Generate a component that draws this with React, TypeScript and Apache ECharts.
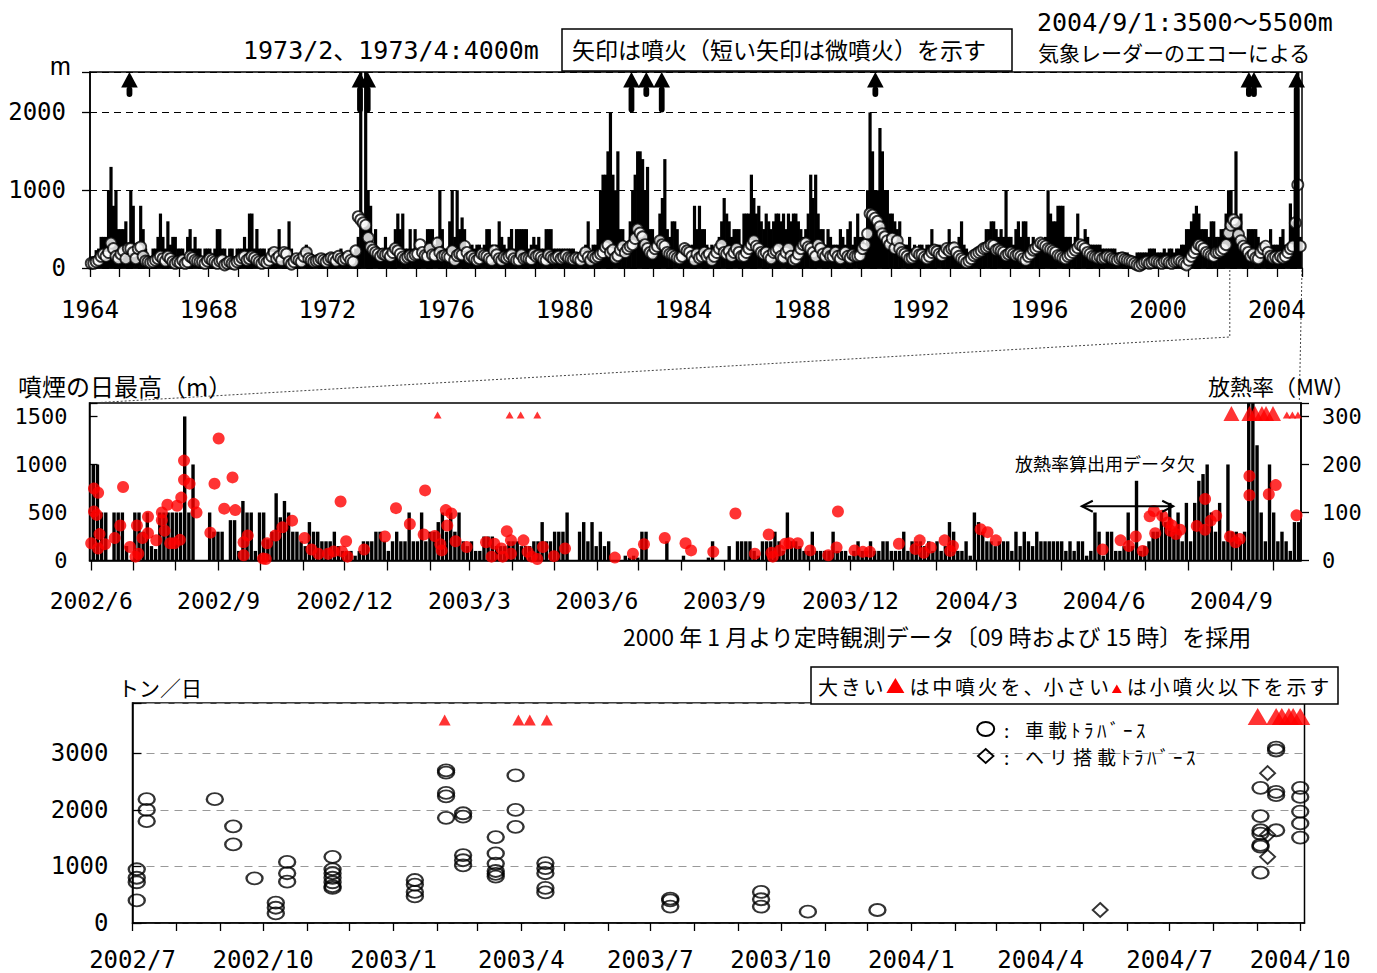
import { useEffect, useRef } from 'react';
import * as echarts from 'echarts';

// ---------- fonts ----------
const MONO = '"DejaVu Sans Mono", monospace';
const JP = '"Noto Sans CJK JP", sans-serif';
const MIXED = '"DejaVu Sans Mono", "Noto Sans CJK JP", monospace';

// ---------- panel 1: monthly plume height 1964–2004 (m) ----------
const TOP_START_YEAR = 1964;
const TOP_X_MAX = 2004.85;
const TOP_Y_MAX = 2520;
// monthly maximum plume height, one row per year
const plumeMonthlyMax: number[][] = [
  [150, 150, 230, 250, 400, 400, 400, 1000, 1300, 800, 1000, 500],
  [500, 500, 600, 200, 1000, 800, 300, 200, 800, 500, 250, 150],
  [150, 250, 250, 400, 700, 400, 250, 600, 300, 400, 400, 250],
  [250, 250, 150, 400, 500, 250, 400, 250, 250, 150, 250, 250],
  [250, 150, 250, 500, 500, 250, 250, 150, 250, 250, 150, 250],
  [250, 250, 400, 250, 700, 700, 250, 500, 250, 250, 250, 150],
  [250, 250, 250, 250, 500, 250, 250, 250, 600, 250, 150, 150],
  [150, 150, 250, 300, 250, 150, 150, 150, 150, 100, 150, 150],
  [150, 100, 150, 150, 150, 250, 150, 150, 150, 150, 150, 250],
  [400, 4000, 500, 4000, 1000, 800, 300, 500, 250, 250, 250, 400],
  [250, 250, 300, 500, 700, 500, 700, 250, 250, 500, 250, 500],
  [250, 250, 250, 250, 500, 500, 500, 300, 400, 1000, 500, 250],
  [250, 600, 1000, 400, 1000, 500, 650, 500, 250, 250, 300, 250],
  [300, 300, 250, 300, 500, 500, 300, 250, 300, 600, 400, 300],
  [250, 400, 500, 250, 500, 500, 500, 500, 500, 250, 300, 400],
  [300, 400, 250, 250, 500, 500, 500, 250, 250, 250, 250, 250],
  [250, 250, 250, 250, 200, 200, 200, 200, 300, 600, 200, 300],
  [300, 500, 1000, 1200, 1200, 1500, 2000, 1200, 1000, 1500, 500, 500],
  [250, 300, 600, 1000, 1200, 1500, 1500, 1400, 1000, 1300, 500, 500],
  [300, 400, 700, 900, 1400, 500, 400, 600, 600, 500, 250, 250],
  [300, 250, 250, 300, 800, 500, 800, 500, 500, 300, 250, 300],
  [250, 300, 400, 600, 900, 700, 600, 400, 500, 500, 500, 300],
  [700, 700, 700, 1200, 900, 700, 800, 600, 500, 700, 600, 500],
  [600, 700, 700, 600, 700, 500, 700, 600, 700, 700, 600, 500],
  [400, 500, 700, 1200, 900, 1200, 700, 500, 500, 300, 500, 400],
  [300, 300, 300, 500, 400, 300, 500, 600, 300, 400, 700, 400],
  [400, 300, 1000, 2000, 1500, 1000, 1000, 1800, 1500, 1000, 1000, 700],
  [700, 600, 500, 600, 300, 300, 300, 400, 250, 300, 250, 300],
  [300, 250, 300, 300, 500, 300, 300, 300, 250, 300, 300, 500],
  [300, 300, 300, 400, 600, 300, 250, 200, 200, 200, 250, 250],
  [250, 300, 500, 500, 600, 600, 500, 400, 500, 400, 1000, 400],
  [400, 300, 500, 600, 400, 600, 600, 400, 300, 400, 300, 250],
  [300, 300, 400, 1000, 700, 600, 600, 800, 800, 800, 400, 400],
  [400, 300, 400, 700, 300, 300, 500, 400, 300, 300, 300, 300],
  [300, 250, 250, 250, 250, 250, 250, 200, 200, 200, 200, 200],
  [150, 150, 150, 200, 200, 200, 200, 200, 250, 250, 250, 200],
  [200, 200, 250, 200, 250, 250, 200, 250, 250, 300, 300, 500],
  [500, 600, 700, 800, 700, 500, 500, 500, 400, 600, 600, 400],
  [400, 500, 500, 700, 1000, 1000, 500, 1500, 620, 700, 400, 300],
  [500, 500, 500, 500, 400, 300, 300, 300, 300, 500, 300, 300],
  [300, 400, 500, 300, 300, 830, 600, 1000, 5500, 400],
];
// monthly mean plume height, one row per year
const plumeMonthlyMean: number[][] = [
  [60, 60, 80, 100, 150, 180, 150, 200, 320, 250, 150, 120],
  [180, 220, 120, 250, 250, 200, 120, 250, 270, 150, 90, 80],
  [70, 80, 100, 120, 150, 120, 90, 150, 120, 80, 60, 80],
  [70, 100, 60, 80, 150, 130, 100, 90, 80, 80, 60, 90],
  [120, 100, 80, 60, 90, 100, 40, 60, 80, 60, 50, 80],
  [100, 130, 150, 100, 120, 150, 130, 100, 80, 60, 90, 70],
  [100, 150, 200, 120, 150, 100, 200, 180, 80, 50, 80, 120],
  [100, 80, 150, 200, 120, 100, 80, 90, 100, 120, 100, 80],
  [110, 130, 120, 90, 150, 120, 100, 120, 150, 100, 80, 220],
  [660, 620, 580, 550, 390, 270, 230, 200, 180, 150, 180, 170],
  [180, 150, 200, 250, 220, 180, 140, 120, 140, 160, 150, 170],
  [180, 300, 200, 160, 150, 250, 170, 160, 320, 200, 150, 160],
  [150, 140, 220, 100, 160, 180, 170, 280, 200, 130, 150, 120],
  [100, 120, 180, 160, 150, 120, 100, 220, 170, 120, 100, 140],
  [130, 150, 170, 120, 100, 100, 170, 120, 130, 120, 110, 180],
  [150, 160, 140, 110, 100, 170, 140, 120, 130, 150, 120, 140],
  [160, 130, 120, 110, 130, 120, 100, 150, 200, 140, 100, 150],
  [130, 150, 180, 200, 270, 300, 200, 230, 130, 160, 230, 280],
  [200, 250, 280, 300, 380, 500, 450, 400, 300, 250, 200, 180],
  [250, 280, 350, 300, 280, 200, 180, 170, 150, 130, 120, 150],
  [250, 220, 200, 150, 100, 180, 130, 150, 200, 150, 180, 100],
  [150, 200, 250, 300, 200, 180, 220, 150, 200, 250, 200, 150],
  [150, 200, 250, 300, 350, 280, 250, 200, 180, 200, 150, 120],
  [200, 220, 250, 150, 130, 200, 250, 150, 100, 120, 180, 250],
  [300, 320, 270, 250, 200, 150, 300, 250, 180, 150, 200, 150],
  [150, 200, 150, 120, 180, 200, 150, 130, 170, 150, 150, 160],
  [250, 300, 440, 700, 680, 640, 600, 530, 440, 400, 350, 300],
  [380, 250, 350, 250, 200, 180, 150, 120, 130, 160, 200, 170],
  [170, 140, 120, 150, 200, 230, 210, 180, 160, 200, 250, 220],
  [250, 260, 200, 150, 120, 100, 70, 90, 120, 160, 180, 200],
  [220, 250, 260, 280, 300, 290, 230, 240, 220, 200, 160, 180],
  [200, 180, 160, 170, 150, 120, 100, 150, 180, 230, 250, 280],
  [320, 300, 280, 250, 240, 220, 200, 160, 150, 130, 120, 150],
  [170, 200, 230, 260, 300, 280, 250, 200, 180, 150, 140, 130],
  [140, 120, 130, 150, 140, 120, 110, 100, 120, 130, 110, 100],
  [90, 80, 60, 40, 30, 50, 70, 80, 60, 70, 90, 80],
  [70, 60, 80, 90, 70, 60, 80, 90, 100, 80, 60, 40],
  [100, 150, 200, 250, 300, 280, 250, 200, 180, 160, 150, 200],
  [200, 220, 250, 300, 450, 550, 620, 580, 430, 350, 280, 250],
  [200, 150, 180, 130, 120, 200, 250, 280, 200, 150, 130, 140],
  [120, 150, 130, 150, 200, 250, 280, 580, 1070, 280],
];
// eruptions (decimal year)
const eruptionsLong = [1973.1, 1973.36, 1982.25, 1983.27];
const eruptionsShort = [1965.33, 1982.75, 1990.47, 2003.06, 2003.23];
const radarEcho = [2004.67];
const LONG_TAIL = 2000;
const SHORT_TAIL = 2200;

// ---------- panel 2: daily plume height (3-day bins) and heat discharge ----------
const DAILY_START = '2002/6/1';
const DAILY_END = '2004/10/20';
const DAILY_BIN = 3;
const plumeDaily: number[] = [
  1000, 1000, 500, 500, 0, 500, 500, 500, 150, 0,
  500, 500, 300, 500, 150, 120, 500, 500, 500, 500,
  500, 500, 1500, 500, 1000, 0, 0, 0, 500, 300,
  300, 300, 0, 420, 420, 100, 620, 500, 500, 100,
  500, 500, 220, 300, 700, 450, 620, 500, 300, 300,
  200, 150, 400, 300, 300, 200, 200, 200, 300, 150,
  100, 100, 100, 50, 100, 200, 200, 200, 300, 300,
  200, 100, 200, 300, 200, 200, 500, 200, 200, 500,
  200, 300, 300, 400, 500, 300, 500, 300, 500, 200,
  150, 200, 100, 100, 250, 250, 250, 150, 150, 150,
  200, 200, 200, 150, 150, 150, 200, 200, 400, 200,
  200, 300, 300, 300, 500, 0, 0, 300, 400, 200,
  400, 150, 300, 150, 200, 0, 0, 0, 50, 30,
  50, 30, 300, 300, 0, 0, 0, 0, 200, 0,
  0, 0, 50, 0, 0, 0, 0, 0, 30, 200,
  0, 0, 0, 150, 0, 200, 200, 200, 200, 100,
  50, 200, 200, 200, 300, 200, 100, 500, 200, 200,
  150, 100, 100, 300, 100, 100, 100, 100, 300, 100,
  100, 100, 50, 100, 200, 100, 100, 200, 100, 100,
  200, 200, 100, 100, 100, 300, 100, 200, 200, 200,
  150, 200, 100, 200, 100, 150, 400, 300, 100, 100,
  200, 50, 500, 400, 300, 200, 200, 150, 200, 200,
  200, 100, 300, 150, 300, 200, 150, 300, 200, 200,
  200, 200, 200, 200, 100, 200, 100, 200, 200, 50,
  100, 500, 300, 50, 300, 300, 100, 100, 150, 500,
  150, 830, 100, 150, 200, 300, 300, 500, 400, 600,
  300, 500, 200, 600, 200, 600, 830, 900, 1000, 500,
  300, 600, 200, 1000, 300, 300, 200, 300, 1700, 1650,
  1200, 500, 200, 1000, 500, 200, 300, 200, 100, 400, 400,
];
// heat discharge rate (MW): day offset from DAILY_START, value
const heatDay = [
  0, 2, 2, 4, 5, 5, 6, 10, 17, 21, 23, 28, 32, 33, 34, 37, 41, 41, 47, 51,
  51, 53, 55, 57, 60, 62, 64, 65, 67, 67, 71, 74, 76, 86, 89, 92, 96, 102, 104, 110,
  110, 113, 124, 126, 127, 133, 138, 145, 154, 159, 164, 171, 175, 180, 181, 184, 185, 197, 212, 220,
  230, 240, 241, 248, 252, 253, 256, 257, 260, 263,
  271, 285, 289, 291, 296, 297, 300, 303, 303, 312, 315, 318, 322, 326, 334, 342, 378, 391, 399, 414,
  429, 433, 449, 465, 479, 489, 491, 492, 497, 501, 504, 510, 519, 532, 538, 539, 551, 557, 562, 583,
  595, 598, 601, 606, 616, 620, 622, 642, 647, 653, 730, 743, 749, 754, 759, 764, 767, 768, 773, 777,
  779, 780, 783, 786, 798, 804, 804, 808, 812, 822, 826, 829, 836, 836, 850, 855, 870,
];
const heatMW = [
  36, 102, 150, 95, 141, 25, 55, 34, 47, 73, 153, 28, 8, 73, 14, 47, 91, 57, 42, 84,
  100, 62, 116, 36, 36, 114, 43, 131, 208, 168, 160, 118, 100, 58, 160, 254, 108, 173, 105, 38,
  11, 52, 4, 3, 36, 52, 69, 83, 47, 23, 14, 14, 19, 123, 19, 40, 8, 23, 50, 109,
  76, 54, 146, 51, 34, 21, 105, 73, 98, 40,
  28, 38, 8, 35, 25, 8, 61, 42, 14, 42, 18, 8, 3, 28, 9, 25, 6, 14, 34, 47,
  36, 21, 18, 98, 14, 54, 16, 8, 21, 35, 36, 36, 21, 11, 27, 102, 21, 18, 18, 35,
  24, 42, 16, 27, 42, 20, 30, 65, 59, 42, 23, 42, 30, 50, 20, 92, 103, 57, 93, 79,
  62, 73, 55, 64, 72, 128, 64, 83, 93, 50, 38, 45, 176, 136, 138, 157, 94,
];
const minorEruptions = ['2003/2/6', '2003/3/30', '2003/4/7', '2003/4/19', '2004/10/11', '2004/10/15', '2004/10/19'];
const mediumEruptions = ['2004/9/1', '2004/9/14', '2004/9/18', '2004/9/23', '2004/9/26', '2004/10/1'];
const heatGap = { from: '2004/5/16', to: '2004/7/21', level: 113 };
const MID_Y_MAX = 1640;
const MID_Y2_MAX = 328;
const EVENT_MW_SMALL = 303;
const EVENT_MW_LARGE = 306;

// ---------- panel 3: SO2 emission (t/day) ----------
const SO2_START = '2002/7/1';
const SO2_END = '2004/10/4';
const SO2_Y_MAX = 3890;
const so2Car: [string, number][] = [
  ['2002/7/4', 950], ['2002/7/4', 800], ['2002/7/4', 720], ['2002/7/4', 400],
  ['2002/7/11', 2190], ['2002/7/11', 2000], ['2002/7/11', 1800],
  ['2002/8/28', 2190],
  ['2002/9/10', 1710], ['2002/9/10', 1390],
  ['2002/9/25', 790],
  ['2002/10/10', 360], ['2002/10/10', 270], ['2002/10/10', 170],
  ['2002/10/18', 1080], ['2002/10/18', 880], ['2002/10/18', 730],
  ['2002/11/19', 1170], ['2002/11/19', 950], ['2002/11/19', 880], ['2002/11/19', 800],
  ['2002/11/19', 720], ['2002/11/19', 650], ['2002/11/19', 620],
  ['2003/1/16', 760], ['2003/1/16', 680], ['2003/1/16', 550], ['2003/1/16', 470],
  ['2003/2/7', 2700], ['2003/2/7', 2660], ['2003/2/7', 2300], ['2003/2/7', 2240], ['2003/2/7', 1860],
  ['2003/2/19', 1940], ['2003/2/19', 1880], ['2003/2/19', 1200], ['2003/2/19', 1110], ['2003/2/19', 1020],
  ['2003/3/14', 1520], ['2003/3/14', 1230], ['2003/3/14', 1050], ['2003/3/14', 920],
  ['2003/3/14', 870], ['2003/3/14', 820],
  ['2003/3/28', 2610], ['2003/3/28', 2000], ['2003/3/28', 1700],
  ['2003/4/18', 1060], ['2003/4/18', 970], ['2003/4/18', 880], ['2003/4/18', 620], ['2003/4/18', 540],
  ['2003/7/15', 430], ['2003/7/15', 400], ['2003/7/15', 290],
  ['2003/9/17', 550], ['2003/9/17', 420], ['2003/9/17', 290],
  ['2003/10/20', 200],
  ['2003/12/8', 230],
  ['2004/9/3', 2390], ['2004/9/3', 1890], ['2004/9/3', 1640], ['2004/9/3', 1580],
  ['2004/9/3', 1380], ['2004/9/3', 1350], ['2004/9/3', 890],
  ['2004/9/14', 3100], ['2004/9/14', 3050], ['2004/9/14', 2320], ['2004/9/14', 2260], ['2004/9/14', 1640],
  ['2004/10/1', 2390], ['2004/10/1', 2230], ['2004/10/1', 1970], ['2004/10/1', 1760], ['2004/10/1', 1510],
];
const so2Heli: [string, number][] = [
  ['2004/5/13', 230], ['2004/9/8', 2650], ['2004/9/8', 1560], ['2004/9/8', 1170],
];
const SO2_EVENT_SMALL = 3590;
const SO2_EVENT_LARGE = 3650;

// ---------- helpers ----------
const DAY = 86400000;
const ts = (s: string) => {
  const [y, m, d] = s.split('/').map(Number);
  return new Date(y, m - 1, d).getTime();
};
const monthLabel = (months: number[]) => (v: number) => {
  const d = new Date(v);
  if (d.getDate() !== 1 || d.getHours() !== 0) return '';
  const m = d.getMonth() + 1;
  return months.includes(m) ? `${d.getFullYear()}/${m}` : '';
};
const isHalf = (ch: string) => {
  const c = ch.charCodeAt(0);
  return c < 0x2000 || (c >= 0xff61 && c <= 0xff9f);
};
function spaced(out: any[], str: string, x0: number, y: number, full: number, half: number, size: number) {
  let x = x0;
  for (const ch of str) {
    out.push({
      type: 'text', x, y, silent: true,
      style: { text: ch, fontSize: size, fontFamily: JP, fill: '#000', align: 'left', verticalAlign: 'middle' },
    });
    x += isHalf(ch) ? half : full;
  }
  return x;
}
const label = (text: string, x: number, y: number, size: number, family = JP) => ({
  type: 'text', x, y, silent: true,
  style: { text, fontSize: size, fontFamily: family, fill: '#000', align: 'left', verticalAlign: 'middle' },
});

const axisBlack = { lineStyle: { color: '#000', width: 1.5 } };
const tickBlack = (length: number, inside = false) => ({ show: true, inside, length, lineStyle: { color: '#000', width: 1.3 } });

function buildOption() {
  const topBars = plumeMonthlyMax.flatMap((row, yi) => row.map((v, m) => [TOP_START_YEAR + yi + (m + 0.5) / 12, v]));
  const topMeans = plumeMonthlyMean.flatMap((row, yi) => row.map((v, m) => [TOP_START_YEAR + yi + (m + 0.5) / 12, v]));
  const arrows = [
    ...eruptionsLong.map((x) => [x, LONG_TAIL]),
    ...eruptionsShort.map((x) => [x, SHORT_TAIL]),
    ...radarEcho.map((x) => [x, 0]),
  ];
  const start = ts(DAILY_START);
  const midBars = plumeDaily.map((v, i) => [start + (i * DAILY_BIN + DAILY_BIN / 2) * DAY, v]);
  const heat = heatDay.map((d, i) => [start + d * DAY, heatMW[i]]);

  const gridBase = { show: true, borderColor: '#000', borderWidth: 1.5, backgroundColor: 'transparent', containLabel: false, outerBoundsMode: 'none' };

  return {
    animation: false,
    backgroundColor: '#fff',
    grid: [
      { ...gridBase, left: 90, top: 72, width: 1212, height: 196 },
      { ...gridBase, left: 89.5, top: 403, width: 1211.5, height: 157.5 },
      { ...gridBase, left: 132.5, top: 703, width: 1172, height: 220 },
    ],
    xAxis: [
      {
        type: 'value', gridIndex: 0, min: TOP_START_YEAR, max: TOP_X_MAX, interval: 1,
        axisLine: axisBlack, axisTick: tickBlack(9),
        axisLabel: {
          color: '#000', fontFamily: MONO, fontSize: 24, margin: 30,
          formatter: (v: number) => (Math.abs(v - Math.round(v)) < 1e-6 && (Math.round(v) - TOP_START_YEAR) % 4 === 0 ? String(Math.round(v)) : ''),
        },
        splitLine: { show: false },
      },
      {
        type: 'time', gridIndex: 1, min: ts(DAILY_START), max: ts(DAILY_END),
        splitNumber: 29, minInterval: 28 * DAY, maxInterval: 32 * DAY,
        axisLine: axisBlack, axisTick: tickBlack(10),
        axisLabel: { color: '#000', fontFamily: MONO, fontSize: 23, margin: 29, formatter: monthLabel([3, 6, 9, 12]) },
        splitLine: { show: false },
      },
      {
        type: 'time', gridIndex: 2, min: ts(SO2_START), max: ts(SO2_END),
        splitNumber: 28, minInterval: 28 * DAY, maxInterval: 32 * DAY,
        axisLine: axisBlack, axisTick: tickBlack(8),
        axisLabel: { color: '#000', fontFamily: MONO, fontSize: 24, margin: 25, formatter: monthLabel([1, 4, 7, 10]) },
        splitLine: { show: false },
      },
    ],
    yAxis: [
      {
        type: 'value', gridIndex: 0, min: 0, max: TOP_Y_MAX, interval: 1000,
        axisLine: { show: true, ...axisBlack }, axisTick: tickBlack(8),
        axisLabel: { color: '#000', fontFamily: MONO, fontSize: 24, margin: 24, formatter: (v: number) => (v % 1000 === 0 ? String(v) : '') },
        splitLine: { show: true, lineStyle: { color: '#000', width: 1, type: [7, 5] } },
      },
      {
        type: 'value', gridIndex: 1, min: 0, max: MID_Y_MAX, interval: 500,
        axisLine: { show: true, ...axisBlack }, axisTick: tickBlack(8, true),
        axisLabel: { color: '#000', fontFamily: MONO, fontSize: 22, margin: 22, formatter: (v: number) => (v % 500 === 0 ? String(v) : '') },
        splitLine: { show: false },
      },
      {
        type: 'value', gridIndex: 1, position: 'right', min: 0, max: MID_Y2_MAX, interval: 100,
        axisLine: { show: true, ...axisBlack }, axisTick: tickBlack(8),
        axisLabel: { color: '#000', fontFamily: MONO, fontSize: 22, margin: 21, formatter: (v: number) => (v % 100 === 0 ? String(v) : '') },
        splitLine: { show: false },
      },
      {
        type: 'value', gridIndex: 2, min: 0, max: SO2_Y_MAX, interval: 1000,
        axisLine: { show: true, ...axisBlack }, axisTick: tickBlack(9, true),
        axisLabel: { color: '#000', fontFamily: MONO, fontSize: 24, margin: 24, formatter: (v: number) => (v % 1000 === 0 ? String(v) : '') },
        splitLine: { show: true, lineStyle: { color: '#999', width: 1, type: [8, 6] } },
      },
    ],
    series: [
      // panel 1
      { type: 'bar', xAxisIndex: 0, yAxisIndex: 0, data: topBars, barWidth: 3.2, itemStyle: { color: '#000' } },
      {
        type: 'scatter', xAxisIndex: 0, yAxisIndex: 0, data: topMeans, symbol: 'circle', symbolSize: 11,
        itemStyle: { color: '#fff', borderColor: '#000', borderWidth: 1.9 },
      },
      {
        type: 'custom', xAxisIndex: 0, yAxisIndex: 0, data: arrows, clip: false, z: 5,
        renderItem: (_p: any, api: any) => {
          const x = api.value(0);
          const top = api.coord([x, TOP_Y_MAX]);
          const bot = api.coord([x, api.value(1)]);
          const cx = top[0], y0 = top[1], y1 = bot[1];
          const hw = 8.3, hh = 15.5, sw = 2.9;
          return {
            type: 'group',
            children: [
              { type: 'rect', shape: { x: cx - sw, y: y0 + hh - 1, width: sw * 2, height: y1 - y0 - hh + 1, r: sw }, style: { fill: '#000' } },
              { type: 'polygon', shape: { points: [[cx, y0], [cx - hw, y0 + hh], [cx + hw, y0 + hh]] }, style: { fill: '#000' } },
            ],
          };
        },
      },
      // panel 2
      { type: 'bar', xAxisIndex: 1, yAxisIndex: 1, data: midBars, barWidth: 3.4, itemStyle: { color: '#000' } },
      { type: 'scatter', xAxisIndex: 1, yAxisIndex: 2, data: heat, symbol: 'circle', symbolSize: 12, itemStyle: { color: '#ff0000' } },
      {
        type: 'scatter', xAxisIndex: 1, yAxisIndex: 2, symbol: 'triangle', symbolSize: [8, 7], itemStyle: { color: '#ff0000' },
        data: minorEruptions.map((d) => [ts(d), EVENT_MW_SMALL]),
      },
      {
        type: 'scatter', xAxisIndex: 1, yAxisIndex: 2, symbol: 'triangle', symbolSize: [16, 15], itemStyle: { color: '#ff0000' },
        data: mediumEruptions.map((d) => [ts(d), EVENT_MW_LARGE]),
      },
      {
        type: 'custom', xAxisIndex: 1, yAxisIndex: 2, clip: false, z: 5,
        data: [[ts(heatGap.from), ts(heatGap.to), heatGap.level]],
        encode: { x: [0, 1], y: 2 },
        renderItem: (_p: any, api: any) => {
          const a = api.coord([api.value(0), api.value(2)]);
          const b = api.coord([api.value(1), api.value(2)]);
          const L = 11, H = 5.5;
          const st = { stroke: '#000', lineWidth: 2, fill: null };
          return {
            type: 'group',
            children: [
              { type: 'line', shape: { x1: a[0], y1: a[1], x2: b[0], y2: b[1] }, style: st },
              { type: 'polyline', shape: { points: [[a[0] + L, a[1] - H], [a[0], a[1]], [a[0] + L, a[1] + H]] }, style: st },
              { type: 'polyline', shape: { points: [[b[0] - L, b[1] - H], [b[0], b[1]], [b[0] - L, b[1] + H]] }, style: st },
            ],
          };
        },
      },
      // panel 3
      {
        type: 'scatter', xAxisIndex: 2, yAxisIndex: 3,
        data: so2Car.map(([d, v]) => [ts(d), v]),
        symbol: 'path://M0,6A8,6,0,1,1,16,6A8,6,0,1,1,0,6Z', symbolSize: [16, 12],
        itemStyle: { color: 'rgba(0,0,0,0)', borderColor: '#000', borderWidth: 2.1 },
      },
      {
        type: 'scatter', xAxisIndex: 2, yAxisIndex: 3,
        data: so2Heli.map(([d, v]) => [ts(d), v]),
        symbol: 'diamond', symbolSize: [15, 14],
        itemStyle: { color: 'rgba(0,0,0,0)', borderColor: '#000', borderWidth: 1.9 },
      },
      {
        type: 'scatter', xAxisIndex: 2, yAxisIndex: 3, symbol: 'triangle', symbolSize: [12, 11], itemStyle: { color: '#ff0000' },
        data: minorEruptions.map((d) => [ts(d), SO2_EVENT_SMALL]),
      },
      {
        type: 'scatter', xAxisIndex: 2, yAxisIndex: 3, symbol: 'triangle', symbolSize: [20, 17], itemStyle: { color: '#ff0000' },
        data: mediumEruptions.map((d) => [ts(d), SO2_EVENT_LARGE]),
      },
    ],
  };
}

function buildGraphic(chart: echarts.ECharts) {
  const px = (xi: number, yi: number, v: number[]) => chart.convertToPixel({ xAxisIndex: xi, yAxisIndex: yi } as any, v) as unknown as number[];
  const els: any[] = [];

  // zoom connectors between panel 1 and panel 2
  const a = px(0, 0, [2002 + 5 / 12, 0]);
  const b = px(1, 1, [ts(DAILY_START), MID_Y_MAX]);
  const c = px(0, 0, [TOP_X_MAX, 0]);
  const d = px(1, 1, [ts(DAILY_END), MID_Y_MAX]);
  const dotted = { stroke: '#444', lineWidth: 1, lineDash: [2, 2], fill: null };
  els.push({ type: 'polyline', silent: true, shape: { points: [[a[0], a[1] + 2], [a[0], 337], [b[0], b[1]]] }, style: dotted });
  els.push({ type: 'polyline', silent: true, shape: { points: [[c[0], c[1] + 2], [d[0], d[1]]] }, style: dotted });

  // panel 1 annotations
  els.push(label('m', 50, 66, 25, '"Liberation Sans", sans-serif'));
  els.push(label('1973/2、1973/4:4000m', 243, 50, 25, MIXED));
  els.push({ type: 'rect', silent: true, shape: { x: 562, y: 29, width: 450, height: 42 }, style: { fill: '#fff', stroke: '#000', lineWidth: 1.5 } });
  els.push(label('矢印は噴火（短い矢印は微噴火）を示す', 572, 49, 23));
  els.push(label('2004/9/1:3500～5500m', 1037, 22, 25, MIXED));
  els.push(label('気象レーダーのエコーによる', 1038, 52, 21));

  // panel 2 annotations
  els.push(label('噴煙の日最高（m）', 18, 385, 24));
  els.push(label('放熱率（MW）', 1208, 385, 22));
  els.push(label('放熱率算出用データ欠', 1015, 463, 18));
  els.push(label('2000 年 1 月より定時観測データ〔09 時および 15 時〕を採用', 623, 636, 23));

  // panel 3 annotations
  els.push(label('トン／日', 118, 687, 21));
  els.push({ type: 'rect', silent: true, shape: { x: 811, y: 667, width: 527, height: 37 }, style: { fill: '#fff', stroke: '#000', lineWidth: 1.5 } });
  let x = spaced(els, '大きい', 818, 686, 22.8, 12, 20);
  els.push({ type: 'polygon', silent: true, shape: { points: [[x + 9, 678], [x, 693], [x + 18, 693]] }, style: { fill: '#ff0000' } });
  x = spaced(els, 'は中噴火を', x + 23, 686, 22.8, 12, 20);
  x = spaced(els, '、', x, 686, 20, 12, 20);
  x = spaced(els, '小さい', x, 686, 22.8, 12, 20);
  els.push({ type: 'polygon', silent: true, shape: { points: [[x + 5, 684.5], [x, 693], [x + 10, 693]] }, style: { fill: '#ff0000' } });
  spaced(els, 'は小噴火以下を示す', x + 15, 686, 22.8, 12, 20);

  // in-plot legend
  els.push({ type: 'ellipse', silent: true, shape: { cx: 985.7, cy: 729, rx: 8.5, ry: 7 }, style: { fill: null, stroke: '#000', lineWidth: 2 } });
  els.push({ type: 'polygon', silent: true, shape: { points: [[985.7, 749], [993.5, 756], [985.7, 763], [977.9, 756]] }, style: { fill: null, stroke: '#000', lineWidth: 1.8 } });
  spaced(els, ':', 1004, 729, 19, 10, 19);
  spaced(els, ':', 1004, 756, 19, 10, 19);
  const x1 = spaced(els, '車載', 1025, 729, 23, 13, 19);
  spaced(els, 'ﾄﾗﾊﾞｰｽ', x1, 729, 23, 13, 19);
  const x2 = spaced(els, 'ヘリ搭載', 1025, 756, 24, 13, 19);
  spaced(els, 'ﾄﾗﾊﾞｰｽ', x2, 756, 24, 13, 19);

  return els;
}

export default function App() {
  const ref = useRef<HTMLDivElement>(null);
  useEffect(() => {
    if (!ref.current) return;
    const chart = echarts.init(ref.current, undefined, { renderer: 'svg' });
    chart.setOption(buildOption() as any);
    chart.setOption({ graphic: buildGraphic(chart) } as any);
    return () => chart.dispose();
  }, []);
  return (
    <div
      ref={ref}
      style={{ position: 'absolute', left: 0, top: 0, width: 1377, height: 973, background: '#fff' }}
    />
  );
}
